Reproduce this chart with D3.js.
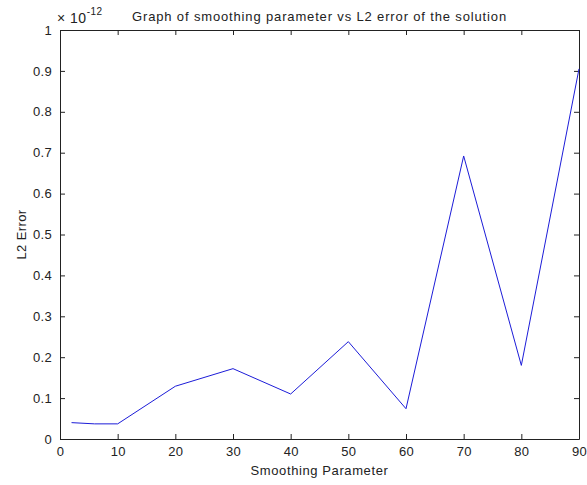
<!DOCTYPE html>
<html>
<head>
<meta charset="utf-8">
<script src="https://cdn.jsdelivr.net/npm/d3@7"></script>
<style>
  html, body { margin: 0; padding: 0; background: #fff; }
  svg { display: block; font-family: "Liberation Sans", Arial, Helvetica, sans-serif; }
</style>
</head>
<body>
<svg id="chart" width="587" height="485"></svg>
<script>
// Smoothing parameter values and the L2 error (in units of 1e-12)
const smoothing = [2, 6, 10, 20, 30, 40, 50, 60, 70, 80, 90];
const l2Error = [0.040, 0.037, 0.037, 0.129, 0.172, 0.110, 0.238, 0.074, 0.692, 0.180, 0.905];
const xTicks = [0, 10, 20, 30, 40, 50, 60, 70, 80, 90];
const yTicks = [0, 0.1, 0.2, 0.3, 0.4, 0.5, 0.6, 0.7, 0.8, 0.9, 1];

const svg = d3.select("#chart");
const plotLeft = 60, plotRight = 579, plotTop = 30, plotBottom = 439;

const x = d3.scaleLinear().domain([0, 90]).range([plotLeft, plotRight]);
const y = d3.scaleLinear().domain([0, 1]).range([plotBottom, plotTop]);

const tickLen = 5;
const axisColor = "#222";

// Box axes with inward ticks on all four sides
const axB = d3.axisBottom(x).tickValues(xTicks).tickSizeInner(-tickLen).tickSizeOuter(0).tickPadding(8).tickFormat(d3.format("d"));
const axT = d3.axisTop(x).tickValues(xTicks).tickSizeInner(-tickLen).tickSizeOuter(0).tickFormat("");
const axL = d3.axisLeft(y).tickValues(yTicks).tickSizeInner(-tickLen).tickSizeOuter(0).tickPadding(8).tickFormat(d => String(+d.toFixed(1)));
const axR = d3.axisRight(y).tickValues(yTicks).tickSizeInner(-tickLen).tickSizeOuter(0).tickFormat("");

function style(g) {
  g.selectAll("path.domain").attr("stroke", axisColor).attr("stroke-width", 1);
  g.selectAll(".tick line").attr("stroke", axisColor);
  g.selectAll(".tick text").attr("fill", "#222").style("font-size", "13px").style("letter-spacing", "0.3px")
    .style("font-family", "Liberation Sans, Arial, sans-serif");
}

svg.append("g").attr("transform", `translate(0,${plotBottom})`).call(axB).call(style);
svg.append("g").attr("transform", `translate(0,${plotTop})`).call(axT).call(style);
svg.append("g").attr("transform", `translate(${plotLeft},0)`).call(axL).call(style);
svg.append("g").attr("transform", `translate(${plotRight},0)`).call(axR).call(style);

// Error curve
const line = d3.line().x((d, i) => x(smoothing[i])).y(d => y(d));
svg.append("path")
  .datum(l2Error)
  .attr("fill", "none")
  .attr("stroke", "#1c1cd8")
  .attr("stroke-width", 1)
  .attr("d", line);

// Exponent multiplier
const mult = svg.append("text").attr("x", 57).attr("y", 23).attr("fill", "#222").style("font-size", "14px").style("letter-spacing", "0.5px");
mult.append("tspan").text("\u00d7 10");
mult.append("tspan").attr("dy", -8).style("font-size", "10px").text("-12");

// Title
svg.append("text")
  .attr("x", (plotLeft + plotRight) / 2).attr("y", 21)
  .attr("text-anchor", "middle").attr("fill", "#222")
  .style("font-size", "13px").style("letter-spacing", "0.85px")
  .text("Graph of smoothing parameter vs L2 error of the solution");

// Axis labels
svg.append("text")
  .attr("x", (plotLeft + plotRight) / 2).attr("y", 475)
  .attr("text-anchor", "middle").attr("fill", "#222")
  .style("font-size", "13px").style("letter-spacing", "0.6px")
  .text("Smoothing Parameter");

svg.append("text")
  .attr("transform", `translate(26,${(plotTop + plotBottom) / 2}) rotate(-90)`)
  .attr("text-anchor", "middle").attr("fill", "#222")
  .style("font-size", "13px").style("letter-spacing", "0.4px")
  .text("L2 Error");
</script>
</body>
</html>
